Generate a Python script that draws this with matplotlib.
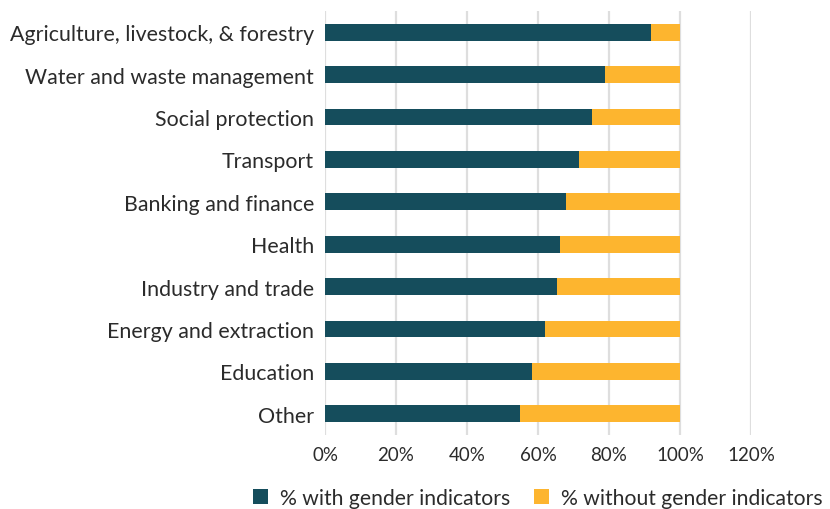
import matplotlib
matplotlib.use("Agg")
import matplotlib.pyplot as plt
from matplotlib.patches import Patch

sectors = [
    "Agriculture, livestock, & forestry",
    "Water and waste management",
    "Social protection",
    "Transport",
    "Banking and finance",
    "Health",
    "Industry and trade",
    "Energy and extraction",
    "Education",
    "Other",
]
with_gender = [91.8, 79.0, 75.2, 71.5, 67.8, 66.1, 65.3, 61.9, 58.3, 54.9]
without_gender = [100 - v for v in with_gender]
x_ticks = [0, 20, 40, 60, 80, 100, 120]

TEAL = "#154d5c"
GOLD = "#fdb52f"
TEXT = "#2b2b2b"

plt.rcParams["font.family"] = ["Lato", "DejaVu Sans"]

fig = plt.figure(figsize=(8.3, 5.1), dpi=100)
ax = fig.add_axes([325 / 830, 1 - 436 / 510, (751 - 325) / 830, (436 - 12) / 510])

ypos = list(range(len(sectors)))
ax.barh(ypos, with_gender, height=0.4, color=TEAL, zorder=3)
ax.barh(ypos, without_gender, left=with_gender, height=0.4, color=GOLD, zorder=3)

ax.set_xlim(0, 120)
ax.set_ylim(len(sectors) - 0.5, -0.5)
ax.set_xticks(x_ticks)
ax.set_xticklabels([f"{t}%" for t in x_ticks])
ax.set_yticks(ypos)
ax.set_yticklabels(sectors)
ax.tick_params(axis="both", length=0, colors=TEXT)
ax.tick_params(axis="x", pad=8, labelsize=13.5)
ax.tick_params(axis="y", pad=8, labelsize=15.4)

ax.grid(axis="x", color="#dedede", linewidth=1.6, zorder=0)
for s in ax.spines.values():
    s.set_visible(False)

handles = [
    Patch(facecolor=TEAL, label="% with gender indicators"),
    Patch(facecolor=GOLD, label="% without gender indicators"),
]
fig.legend(
    handles=handles,
    loc="lower center",
    bbox_to_anchor=(538 / 830, -0.035),
    ncol=2,
    frameon=False,
    fontsize=15.2,
    handlelength=0.7,
    handleheight=0.7,
    handletextpad=0.6,
    columnspacing=1.1,
    labelcolor=TEXT,
)

fig.savefig("out.png", dpi=100)
